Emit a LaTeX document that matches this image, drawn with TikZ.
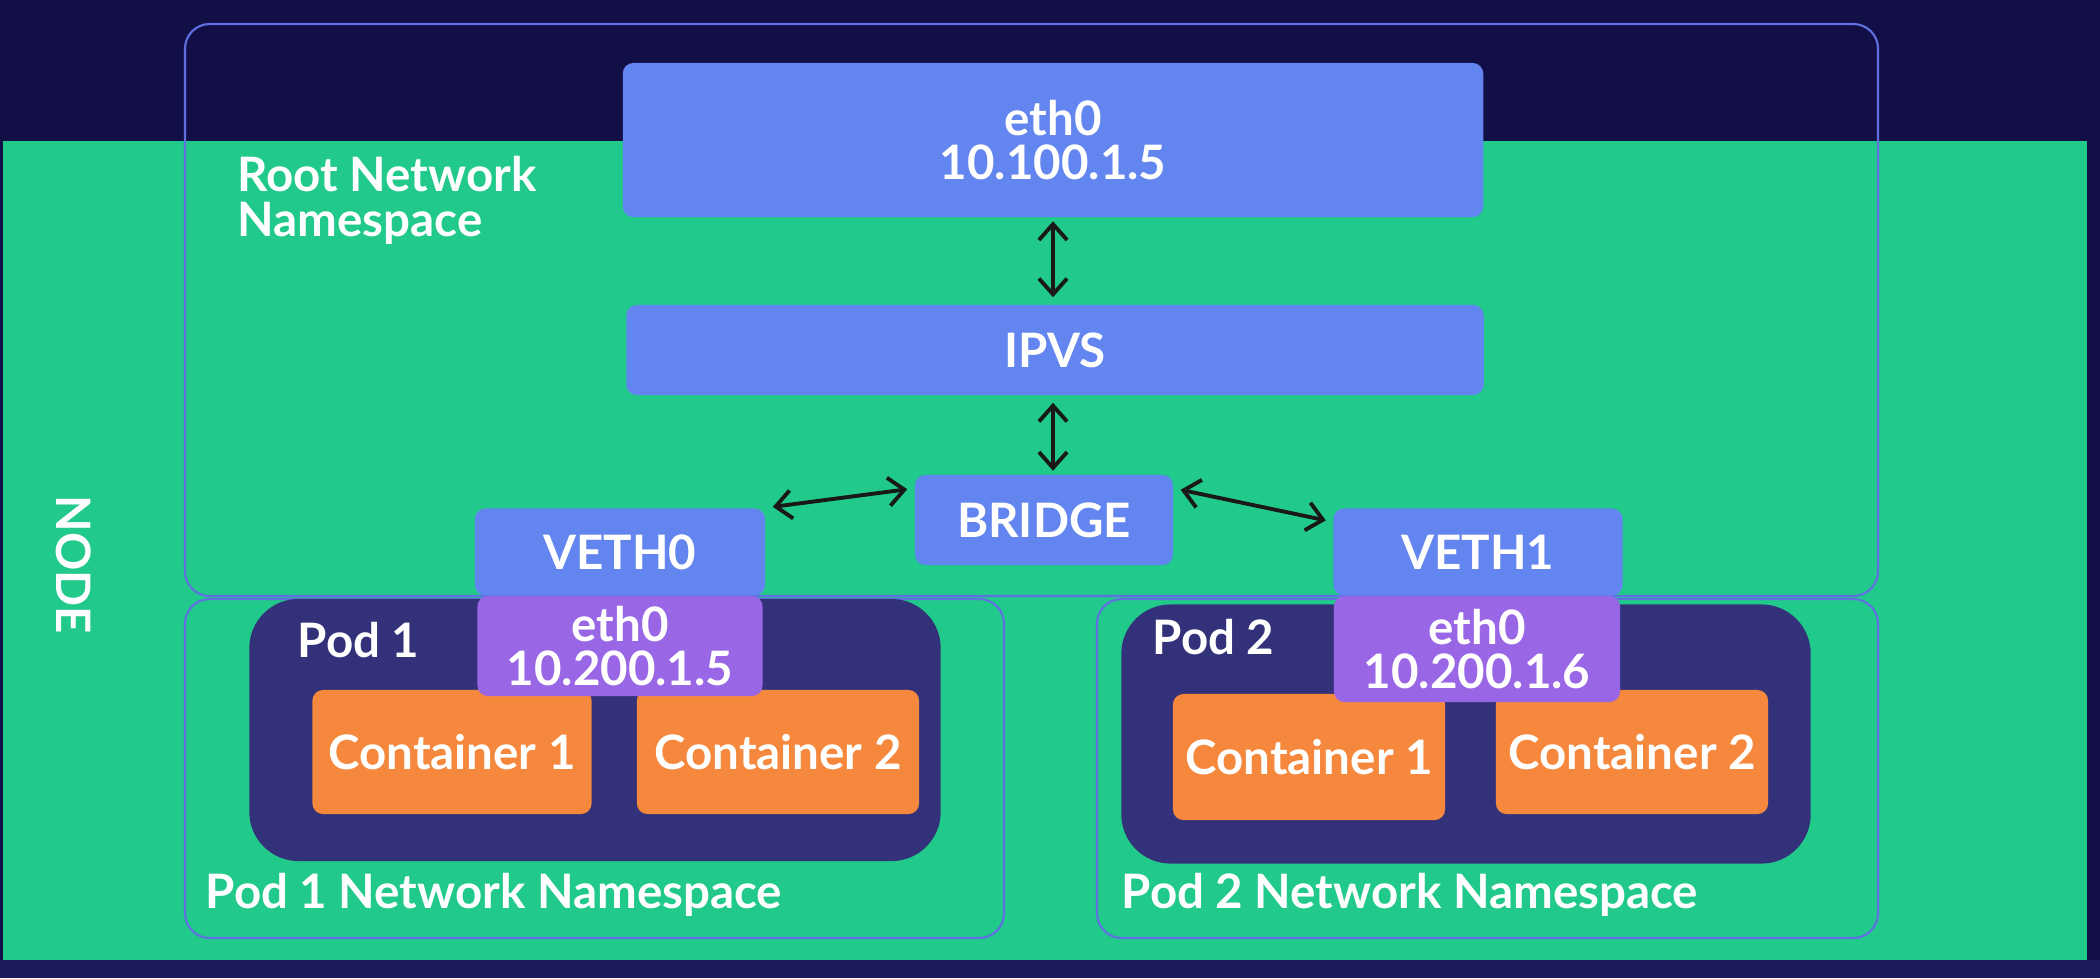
\documentclass[tikz,border=0pt]{standalone}
\usepackage{fontspec}
\setmainfont{Lato}[BoldFont={Lato Bold}]
\usetikzlibrary{arrows.meta}

\definecolor{bgdark}{RGB}{17,15,69}
\definecolor{bgbottom}{RGB}{28,26,88}
\definecolor{nodegreen}{RGB}{33,201,139}
\definecolor{ifblue}{RGB}{99,133,239}
\definecolor{ifpurple}{RGB}{153,102,230}
\definecolor{poddark}{RGB}{51,49,122}
\definecolor{ctorange}{RGB}{245,136,60}
\definecolor{nsline}{RGB}{96,112,224}

\newcommand{\labfont}{\bfseries\fontsize{13.5}{12.5}\selectfont}

\begin{document}
\begin{tikzpicture}[x=0.01cm,y=-0.01cm,>={Straight Barb[length=4.5pt,width=8pt]},
  ifbox/.style={fill=ifblue,rounded corners=3pt,inner sep=0pt,text=white,font=\labfont,align=center},
  ethbox/.style={fill=ifpurple,rounded corners=3pt,inner sep=0pt,text=white,font=\labfont,align=center},
  podbox/.style={fill=poddark,rounded corners=14pt,inner sep=0pt},
  ctbox/.style={fill=ctorange,rounded corners=3pt,inner sep=0pt,text=white,font=\labfont,align=center},
  nsbox/.style={draw=nsline,line width=0.6pt,rounded corners=7pt},
  lbl/.style={text=white,font=\labfont,inner sep=0pt},
  link/.style={<->,line width=1.1pt,black!90}]
% ---------- 背景 ----------
\useasboundingbox[fill=bgdark] (0,0) rectangle (2100,978);
\fill[bgbottom] (0,960) rectangle (2100,978);
\fill[nodegreen] (3,141) rectangle (2087,960);
\node[lbl,rotate=-90] (nodelbl) at (74,565) {NODE};
% ---------- 命名空间边框 ----------
\draw[nsbox] (185,24) rectangle (1878,596);
\draw[nsbox] (185,599) rectangle (1004,938);
\draw[nsbox] (1097,599) rectangle (1878,938);
\node[lbl,anchor=west,align=left,font=\bfseries\fontsize{13.5}{12.8}\selectfont] (rootlbl) at (237,200) {Root Network\\Namespace};
\node[lbl,anchor=west] (ns1lbl) at (205,895) {Pod 1 Network Namespace};
\node[lbl,anchor=west] (ns2lbl) at (1121,895) {Pod 2 Network Namespace};
% ---------- 根命名空间 ----------
\node[ifbox,minimum width=8.6cm,minimum height=1.54cm] (eth) at (1053,140) {eth0\\10.100.1.5};
\node[ifbox,minimum width=8.57cm,minimum height=0.9cm] (ipvs) at (1055,350) {IPVS};
\node[ifbox,minimum width=2.58cm,minimum height=0.9cm] (bridge) at (1044,520) {BRIDGE};
\node[ifbox,minimum width=2.9cm,minimum height=0.87cm] (veth0) at (620,552) {VETH0};
\node[ifbox,minimum width=2.89cm,minimum height=0.87cm] (veth1) at (1478,552) {VETH1};
% ---------- Pod 1 ----------
\node[podbox,minimum width=6.91cm,minimum height=2.62cm] (pod1) at (595,730) {};
\node[lbl,anchor=west] (pod1lbl) at (297,640) {Pod 1};
\node[ctbox,minimum width=2.79cm,minimum height=1.24cm] (ct11) at (452,752) {Container 1};
\node[ctbox,minimum width=2.82cm,minimum height=1.24cm] (ct12) at (778,752) {Container 2};
\node[ethbox,minimum width=2.85cm,minimum height=1.0cm] (eth1) at (620,646) {eth0\\10.200.1.5};
% ---------- Pod 2 ----------
\node[podbox,minimum width=6.89cm,minimum height=2.59cm] (pod2) at (1466,734) {};
\node[lbl,anchor=west] (pod2lbl) at (1152,637) {Pod 2};
\node[ctbox,minimum width=2.72cm,minimum height=1.26cm] (ct21) at (1309,757) {Container 1};
\node[ctbox,minimum width=2.72cm,minimum height=1.24cm] (ct22) at (1632,752) {Container 2};
\node[ethbox,minimum width=2.86cm,minimum height=1.06cm] (eth2) at (1477,649) {eth0\\10.200.1.6};
% ---------- 连线 ----------
\draw[link,shorten <=1pt,shorten >=2pt] (eth.south) -- (eth.south |- ipvs.north);
\draw[link,shorten <=2pt,shorten >=1pt] (eth.south |- ipvs.south) -- (eth.south |- bridge.north);
\draw[link,shorten <=2pt,shorten >=2pt] ([yshift=-4pt]bridge.north west) -- (veth0.north east);
\draw[link,shorten <=2pt,shorten >=2pt] ([yshift=-4pt]bridge.north east) -- ([yshift=-4pt]veth1.north west);
\end{tikzpicture}
\end{document}
